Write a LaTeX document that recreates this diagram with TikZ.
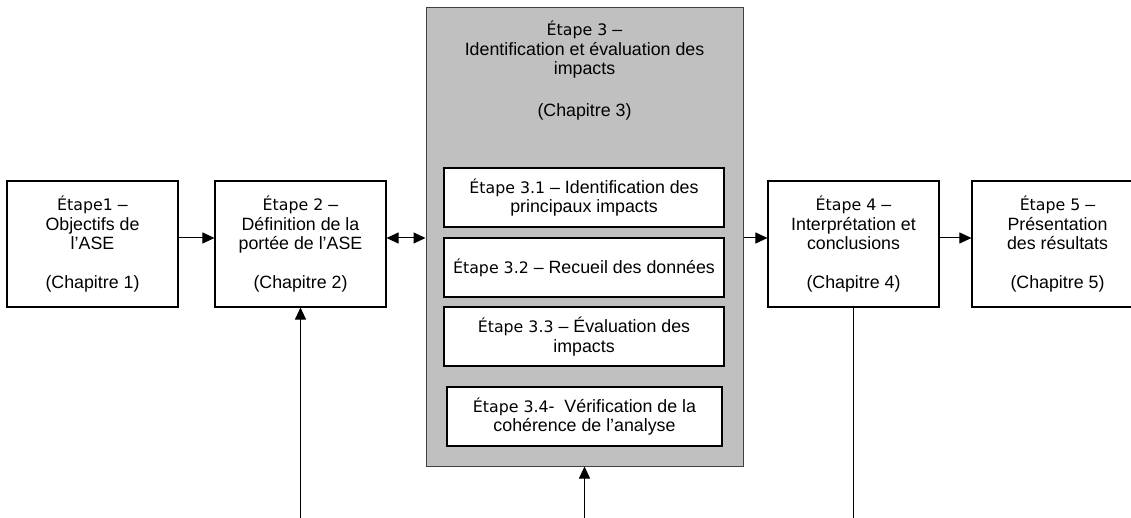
\documentclass[tikz,border=0pt]{standalone}
\usepackage{fontspec}
\setmainfont{Liberation Sans}
\newfontfamily\stepfont{DejaVu Sans}
\usetikzlibrary{arrows.meta}
\definecolor{panelgray}{HTML}{C0C0C0}
% step labels ("Étape n") are set in a wider face than the body text
\newcommand\stp[1]{{\stepfont\fontsize{15.8}{19.5}\selectfont #1}}
\begin{document}
\begin{tikzpicture}[x=1pt,y=-1pt,
  font=\fontsize{17.8}{19.5}\selectfont,
  stepbox/.style={draw, line width=1.1pt, fill=white, minimum width=171pt,
    minimum height=126pt, align=center, inner sep=0pt},
  subbox/.style={draw, line width=1.1pt, fill=white, minimum width=280pt,
    minimum height=59pt, align=center, inner sep=0pt},
  panel/.style={draw=black!75, line width=1pt, fill=panelgray,
    minimum width=317pt, minimum height=458pt, inner sep=0pt},
  conn/.style={line width=1pt},
  tip/.style={-{Triangle[length=12pt,width=11pt]}},
  dtip/.style={{Triangle[length=12pt,width=11pt]}-{Triangle[length=12pt,width=11pt]}}]
\useasboundingbox (0,0) rectangle (1131,518);
\clip (0,0) rectangle (1131,518);

% outer steps
\node[stepbox] (s1) at (92.5,244) {\stp{Étape1} –\\Objectifs de\\l’ASE\\[19pt](Chapitre 1)};
\node[stepbox] (s2) at (300.5,244) {\stp{Étape 2} –\\Définition de la\\portée de l’ASE\\[19pt](Chapitre 2)};
\node[stepbox] (s4) at (853.5,244) {\stp{Étape 4} –\\Interprétation et\\conclusions\\[19pt](Chapitre 4)};
\node[stepbox] (s5) at (1057.5,244) {\stp{Étape 5} –\\Présentation\\des résultats\\[19pt](Chapitre 5)};

% step 3 panel with its sub-steps
\node[panel] (s3) at (584.5,237) {};
\node[align=center] (s3title) at (584.5,50) {\stp{Étape 3} –\\Identification et évaluation des\\impacts};
\node (s3chap) at (584.5,112) {(Chapitre 3)};
\node[subbox] (s31) at (584,197.5) {\stp{Étape 3.1} – Identification des\\principaux impacts};
\node[subbox] (s32) at (584,267.5) {\stp{Étape 3.2} – Recueil des données};
\node[subbox] (s33) at (584,336.5) {\stp{Étape 3.3} – Évaluation des\\impacts};
\node[subbox, minimum width=275pt] (s34) at (584.5,416.5) {\stp{Étape 3.4}-\ \ Vérification de la\\cohérence de l’analyse};

% connectors
\coordinate (a1) at ([yshift=6pt]s1.east);
\coordinate (a2) at ([yshift=6pt]s2.west);
\coordinate (a3) at ([yshift=6pt]s2.east);
\coordinate (a4) at ([yshift=6pt]s4.west);
\coordinate (a5) at ([yshift=6pt]s4.east);
\coordinate (a6) at ([yshift=6pt]s5.west);
\draw[conn,tip] (a1) -- (a2);
\draw[conn,dtip] (a3) -- (s3.west |- a3);
\draw[conn,tip] (s3.east |- a4) -- (a4);
\draw[conn,tip] (a5) -- (a6);

\coordinate (b2) at (s2.south |- 0,518);
\coordinate (b3) at (s3.south |- 0,518);
\coordinate (b4) at (s4.south |- 0,518);
\draw[conn,tip] (b2) -- (s2.south);
\draw[conn,tip] (b3) -- (s3.south);
\draw[conn] (s4.south) -- (b4);
\end{tikzpicture}
\end{document}
